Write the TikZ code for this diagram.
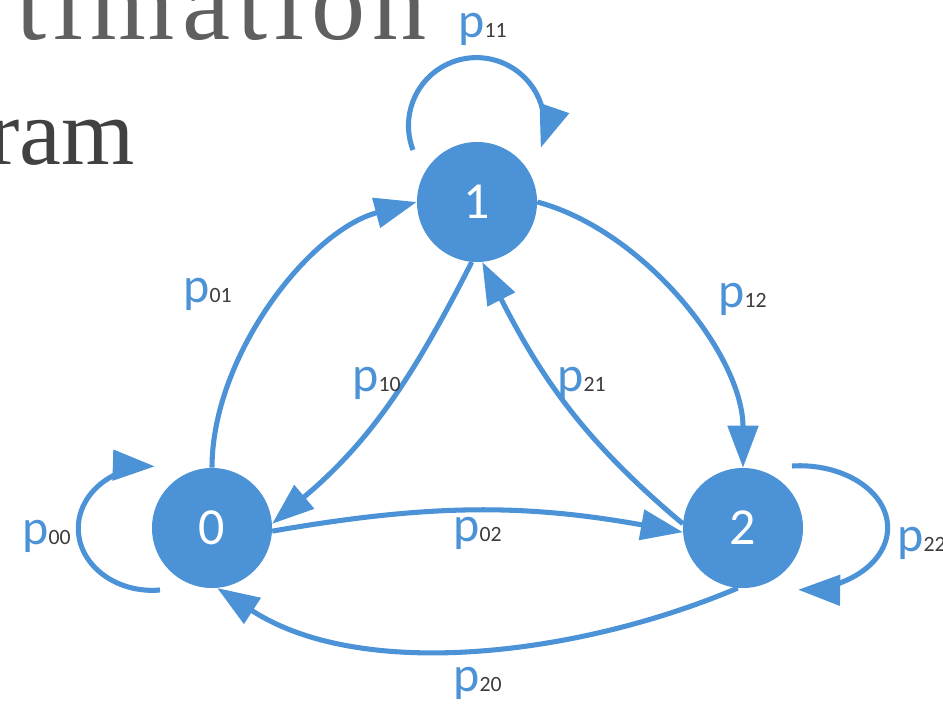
\documentclass[tikz,border=0pt]{standalone}
\usepackage{fontspec}
\newfontfamily\lblfont{Carlito}
\newfontfamily\headfont{Liberation Serif}
\usepackage{tikz}
\usetikzlibrary{arrows.meta}
\definecolor{mkblue}{RGB}{76,146,214}
\definecolor{ink}{RGB}{95,95,95}
\definecolor{darkink}{RGB}{65,65,65}
\definecolor{subink}{RGB}{60,60,60}
\newcommand{\plabel}[1]{{\fontsize{35.5}{36}\selectfont p}{\fontsize{15.5}{16}\selectfont\color{subink}#1}}

\begin{document}
\begin{tikzpicture}[x=0.025cm, y=0.025cm,
  stnode/.style={circle, fill=mkblue, text=white, minimum size=3cm, inner sep=0pt,
                 font=\lblfont\fontsize{37}{40}\selectfont},
  plab/.style={anchor=base west, inner sep=0pt, text=mkblue, font=\lblfont},
  headtxt/.style={anchor=base east, inner sep=0pt, text=ink},
  arr/.style={-{Triangle[length=1.05cm, width=0.75cm]}, line width=3.6pt, mkblue}]
  \useasboundingbox (0,0) rectangle (943,705);
  \clip (0,0) rectangle (943,705);
  % cut-off slide title
  \node[headtxt, font=\headfont\fontsize{77}{80}\selectfont\addfontfeature{LetterSpace=6.5}]
    (hd1) at (427,665) {timation};
  \node[headtxt, text=darkink, font=\headfont\fontsize{67}{70}\selectfont]
    (hd2) at (135,540) {ram};
  % states
  \node[stnode] (s0) at (212,177) {0};
  \node[stnode] (s1) at (477,503) {1};
  \node[stnode] (s2) at (743,177) {2};
  % transitions
  \draw[arr] (s0.north) to[out=90, in=195, looseness=0.85] (s1.west);
  \draw[arr] (s1.east) to[out=-15, in=90, looseness=0.85] (s2.north);
  \draw[arr] (s1.-95) to[out=-117, in=40] (s0.4);
  \draw[arr] (s2.176) to[out=140, in=-63] (s1.-85);
  \draw[arr] (s0.-3) to[bend left=10] (s2.184);
  \draw[arr] (s2.-95) to[out=-157, in=-33, looseness=0.85] (s0.-85);
  % self loops
  \coordinate (c11) at (413,555);
  \coordinate (c00) at (160,115);
  \coordinate (c22) at (792,239);
  \draw[arr] (c11) arc[start angle=201, end angle=-19, radius=68];
  \draw[arr] (c00) arc[start angle=-84, end angle=-272, x radius=74, y radius=62];
  \draw[arr] (c22) arc[start angle=95, end angle=-91, x radius=88, y radius=62];
  % labels
  \foreach \x/\y/\s in {183/402/01, 718/397/12, 352/313/10, 557/313/21, 22/160/00,
                        897/153/22, 458/667/11, 453/163/02, 453/13/20}
    \node[plab] (p\s) at (\x,\y) {\plabel{\s}};
\end{tikzpicture}
\end{document}
